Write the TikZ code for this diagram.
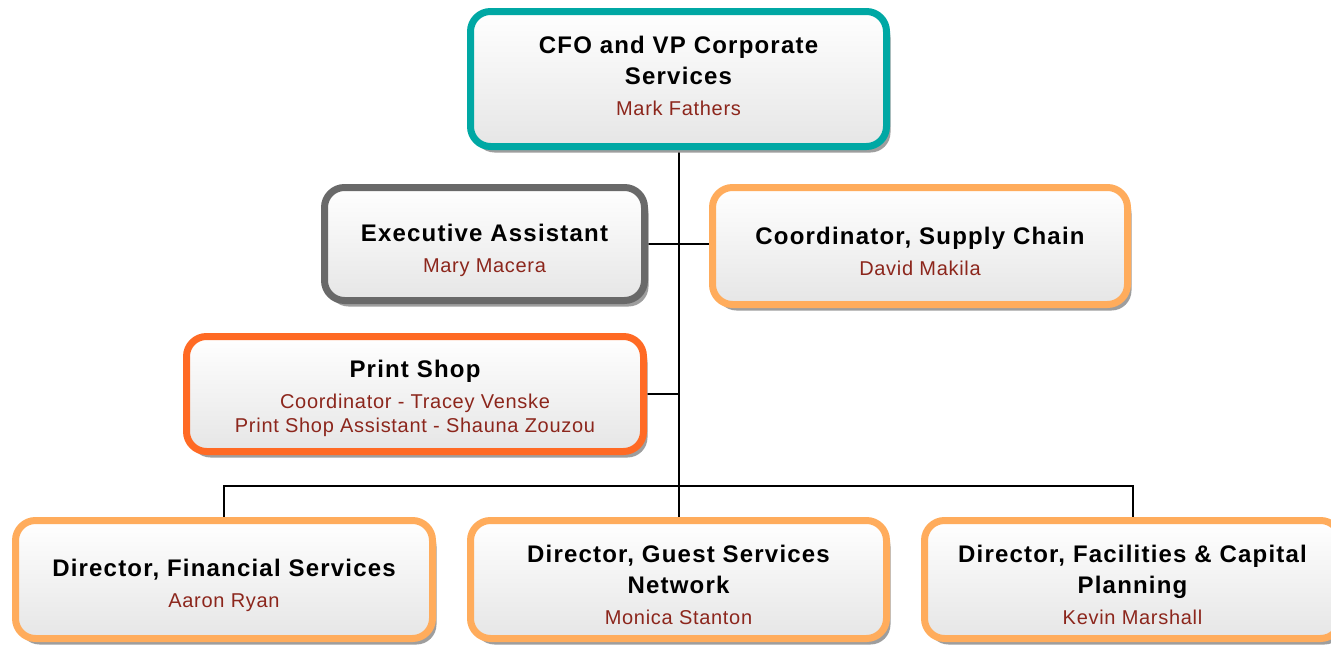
\documentclass[tikz,border=0pt]{standalone}
\usepackage{fontspec}
\setmainfont{Liberation Sans}
\usetikzlibrary{shadows,backgrounds}
\definecolor{teal1}{RGB}{0,168,164}
\definecolor{gray1}{RGB}{105,105,105}
\definecolor{lorange}{RGB}{255,172,92}
\definecolor{dorange}{RGB}{255,106,36}
\definecolor{namecol}{RGB}{140,38,28}
\newcommand{\nm}[1]{{\fontsize{20}{24}\selectfont\mdseries\addfontfeature{LetterSpace=3.5}\color{namecol}#1}}
\tikzset{
  box/.style={rounded corners=20pt, line width=7pt,
    top color=white, bottom color=black!10, inner sep=0pt,
    drop shadow={shadow xshift=4pt, shadow yshift=-6pt, fill=black!38, opacity=1}},
  txt/.style={align=center, inner sep=0pt,
    font=\fontsize{24}{31}\selectfont\bfseries\addfontfeature{LetterSpace=5}},
  link/.style={line width=2pt, black}
}
\begin{document}
\begin{tikzpicture}[x=1pt,y=-1pt]
\useasboundingbox (0,0) rectangle (1331,653);
\clip (0,0) rectangle (1331,653);
\node[box, draw=teal1, minimum width=416pt, minimum height=135pt] (cfo) at (678.5,79) {};
\node[txt] (cfot) at ([yshift=3pt]cfo.center)
  {CFO and VP Corporate\\ Services\\ \nm{Mark Fathers}};
\node[box, draw=gray1, minimum width=320pt, minimum height=113pt] (exec) at (484.5,244) {};
\node[txt] (exect) at ([yshift=-6pt]exec.center)
  {Executive Assistant\\ \nm{Mary Macera}};
\node[box, draw=lorange, minimum width=415pt, minimum height=117pt] (coord) at (920,246) {};
\node[txt] (coordt) at ([yshift=-5.5pt]coord.center)
  {Coordinator, Supply Chain\\ \nm{David Makila}};
\node[box, draw=dorange, minimum width=457pt, minimum height=115pt] (print) at (415,394) {};
\node[txt] (printt) at ([yshift=-4pt]print.center)
  {Print Shop\\ \nm{Coordinator - Tracey Venske}\\[-7pt] \nm{Print Shop Assistant - Shauna Zouzou}};
\node[box, draw=lorange, minimum width=417pt, minimum height=118pt] (dirf) at (224,579.5) {};
\node[txt] (dirft) at ([yshift=-6pt]dirf.center)
  {Director, Financial Services\\ \nm{Aaron Ryan}};
\node[box, draw=lorange, minimum width=416pt, minimum height=118pt] (dirg) at (678.5,579.5) {};
\node[txt] (dirgt) at ([yshift=-5pt]dirg.center)
  {Director, Guest Services\\ Network\\ \nm{Monica Stanton}};
\node[box, draw=lorange, minimum width=416pt, minimum height=118pt] (dirfac) at (1132.5,579.5) {};
\node[txt] (dirfact) at ([yshift=-5pt]dirfac.center)
  {Director, Facilities \& Capital\\ Planning\\ \nm{Kevin Marshall}};
\begin{pgfonlayer}{background}
  \draw[link] (cfo.south) -- (dirg.north);
  \draw[link] (exec.east) -- (exec.east -| coord.west);
  \draw[link] (print.east) -- (print.east -| cfo.south);
  \coordinate (bus) at (678.5,486);
  \draw[link] (dirf.north) -- (dirf.north |- bus) -- (dirfac.north |- bus) -- (dirfac.north);
\end{pgfonlayer}
\end{tikzpicture}
\end{document}
